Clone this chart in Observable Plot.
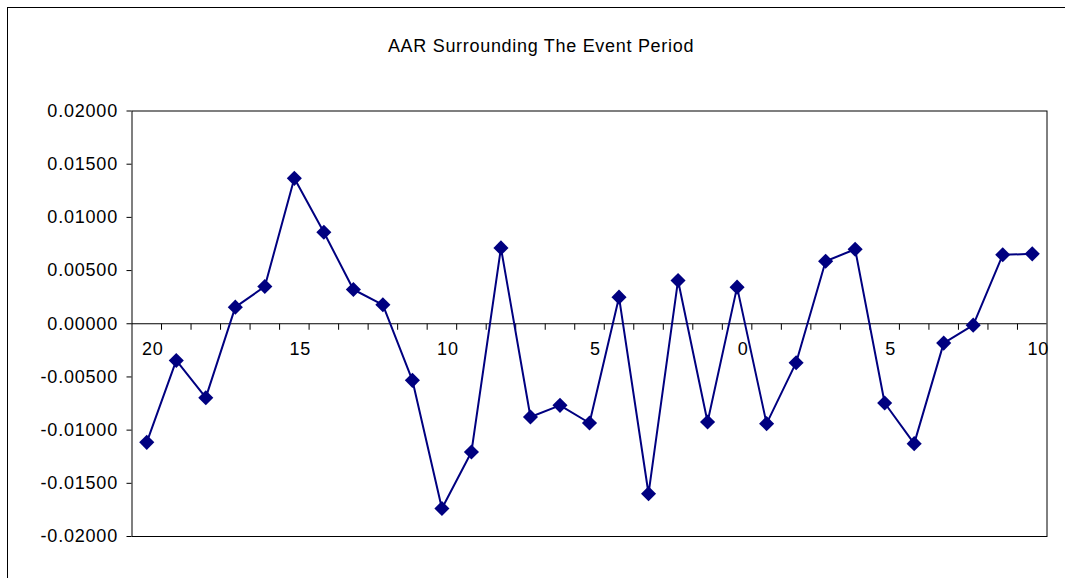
<!DOCTYPE html>
<html>
<head>
<meta charset="utf-8">
<script src="https://cdn.jsdelivr.net/npm/d3@7"></script>
<script src="https://cdn.jsdelivr.net/npm/@observablehq/plot@0.6"></script>
<style>
  html, body { margin: 0; padding: 0; background: #fff; }
  #wrap { position: relative; width: 1065px; height: 578px; overflow: hidden; font-family: "Liberation Sans", Arial, sans-serif; }
  #outer { position: absolute; left: 7px; top: 7px; right: -2px; bottom: -2px; border-left: 1px solid #000; border-top: 1px solid #000; }
  #title { position: absolute; left: 0; top: 36px; width: 1082px; text-align: center; font-size: 18px; letter-spacing: 0.7px; color: #000; }
  #chart { position: absolute; left: 0; top: 0; }
  #chart svg text { letter-spacing: 0.8px; }
</style>
</head>
<body>
<div id="wrap">
  <div id="outer"></div>
  <div id="title">AAR Surrounding The Event Period</div>
  <div id="chart"></div>
</div>
<script>
// Event days (categories)
const days = [-20,-19,-18,-17,-16,-15,-14,-13,-12,-11,-10,-9,-8,-7,-6,-5,-4,-3,-2,-1,0,1,2,3,4,5,6,7,8,9,10];
// Average abnormal returns
const aar = [-0.01115,-0.00345,-0.00695,0.00156,0.00350,0.01367,0.00860,0.00322,0.00178,-0.00532,
             -0.01737,-0.01205,0.00713,-0.00877,-0.00767,-0.00933,0.00250,-0.01598,0.00407,-0.00924,
             0.00344,-0.00939,-0.00366,0.00588,0.00700,-0.00745,-0.01127,-0.00182,-0.00013,0.00648,0.00657];
// X tick labels as shown
const xTickValues = [-20,-15,-10,-5,0,5,10];
const xTickLabels = ["20","15","10","5","0","5","10"];
// Y ticks
const yTicks = [-0.02,-0.015,-0.01,-0.005,0,0.005,0.01,0.015,0.02];

const data = days.map((d, i) => ({day: d, aar: aar[i]}));
const boundaries = days.slice(0, -1).map(d => d + 0.5);
const fmt = d3.format(".5f");

const tickSymbol = { draw(ctx, size) { ctx.moveTo(0, 0); ctx.lineTo(0, 6); } };

const chart = Plot.plot({
  width: 1065,
  height: 578,
  marginLeft: 131.5,
  marginRight: 18.5,
  marginTop: 110.5,
  marginBottom: 42,
  style: { fontSize: "18px", fontFamily: "'Liberation Sans', Arial, sans-serif", color: "#000", background: "transparent" },
  x: { domain: [days[0] - 0.5, days[days.length - 1] + 0.5], axis: null },
  y: {
    domain: [-0.02, 0.02],
    ticks: yTicks,
    tickFormat: d => fmt(d).replace("\u2212", "-"),
    tickSize: 5,
    tickPadding: 9,
    label: null,
    line: false
  },
  marks: [
    Plot.frame({ stroke: "#000", strokeWidth: 1 }),
    Plot.ruleY([0], { stroke: "#000", strokeWidth: 1 }),
    Plot.dot(boundaries, { x: d => d, y: 0, symbol: tickSymbol, stroke: "#000", fill: "none", strokeWidth: 1 }),
    Plot.line(data, { x: "day", y: "aar", stroke: "#000080", strokeWidth: 2 }),
    Plot.dot(data, { x: "day", y: "aar", symbol: "diamond2", r: 6.8, fill: "#000080", stroke: "none" }),
    Plot.text(xTickValues, { x: d => d, y: 0, text: (d, i) => xTickLabels[i], dy: 25, dx: 6, fill: "#000", fontSize: 18 })
  ]
});
document.getElementById("chart").appendChild(chart);
</script>
</body>
</html>
